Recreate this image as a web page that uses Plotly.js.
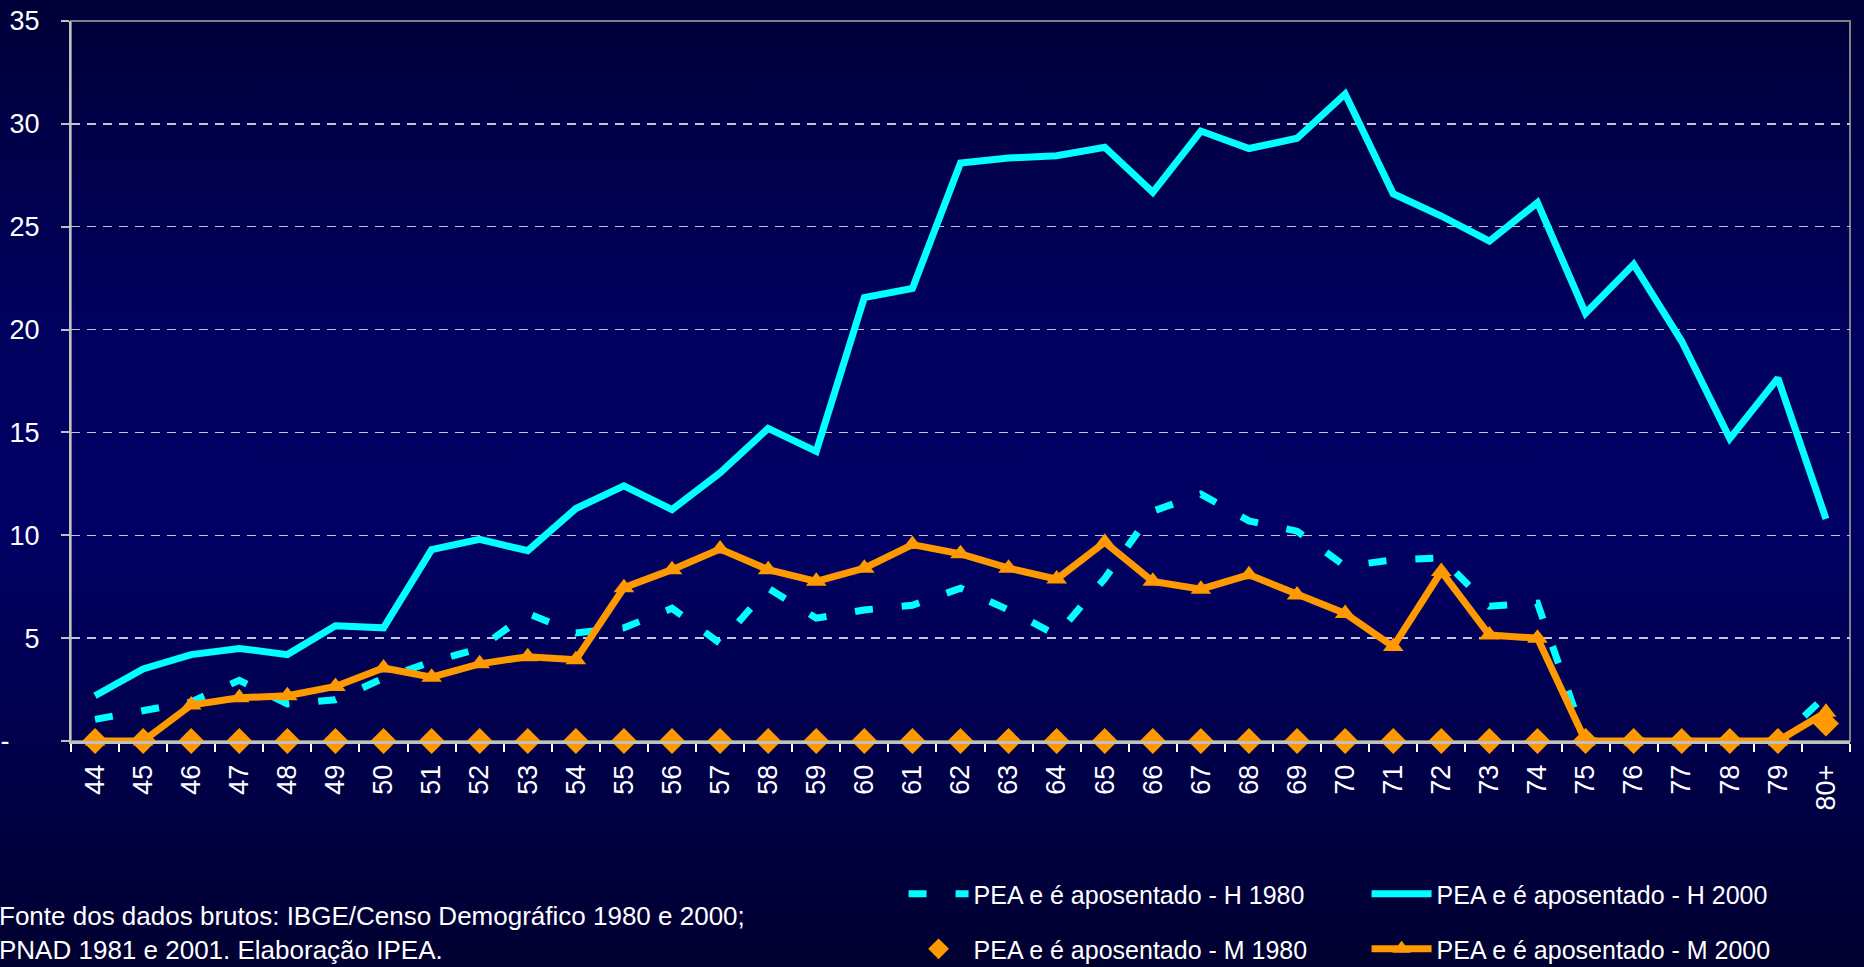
<!DOCTYPE html>
<html>
<head>
<meta charset="utf-8">
<script src="https://cdn.plot.ly/plotly-3.0.1.min.js"></script>
<style>
  html, body { margin: 0; padding: 0; width: 1864px; height: 967px; overflow: hidden; }
  body { background: linear-gradient(to bottom, #000038 0%, #00005e 33%, #000064 55%, #00004a 78%, #000030 100%); }
  #chart { width: 1864px; height: 967px; }
</style>
</head>
<body>
<div id="chart"></div>
<script>
// Age categories
const ages = ['44','45','46','47','48','49','50','51','52','53','54','55','56','57','58','59','60','61','62','63','64','65','66','67','68','69','70','71','72','73','74','75','76','77','78','79','80+'];

// PEA e é aposentado - H 1980
const h1980 = [1.05,1.45,1.9,2.95,1.8,2.0,3.05,3.85,4.5,6.2,5.25,5.5,6.45,4.75,7.43,5.97,6.37,6.6,7.43,6.37,5.15,7.9,11.17,12.0,10.7,10.2,8.5,8.8,8.9,6.55,6.7,0,0,0,0,0,2.2];
// PEA e é aposentado - H 2000
const h2000 = [2.2,3.5,4.2,4.5,4.2,5.6,5.5,9.3,9.8,9.25,11.3,12.4,11.25,13.04,15.2,14.08,21.56,22.0,28.1,28.34,28.45,28.86,26.67,29.65,28.8,29.3,31.45,26.6,25.52,24.3,26.17,20.79,23.17,19.43,14.7,17.64,10.8];
// PEA e é aposentado - M 1980
const m1980 = [0,0,0,0,0,0,0,0,0,0,0,0,0,0,0,0,0,0,0,0,0,0,0,0,0,0,0,0,0,0,0,0,0,0,0,0,0.85];
// PEA e é aposentado - M 2000
const m2000 = [0,0,1.75,2.1,2.2,2.65,3.55,3.1,3.75,4.1,3.95,7.45,8.33,9.33,8.33,7.76,8.4,9.55,9.1,8.4,7.87,9.66,7.76,7.38,8.08,7.1,6.2,4.59,8.24,5.15,5.0,0,0,0,0,0,1.4];

const yTickVals = [0,5,10,15,20,25,30,35];
const yTickText = ['-\u00a0\u00a0\u00a0\u00a0','5','10','15','20','25','30','35'];

const seriesNames = ['PEA e é aposentado - H 1980','PEA e é aposentado - H 2000','PEA e é aposentado - M 1980','PEA e é aposentado - M 2000'];
const sourceLines = ['Fonte dos dados brutos: IBGE/Censo Demográfico 1980 e 2000;','PNAD 1981 e 2001. Elaboração IPEA.'];

const CYAN = '#00FFFF';
const ORANGE = '#FF9900';
const FONT = 'Liberation Sans, Arial, sans-serif';

const traces = [
  {
    x: ages, y: h1980, name: seriesNames[0], type: 'scatter', mode: 'lines',
    line: {color: CYAN, width: 7, dash: '18px,29px'},
    cliponaxis: false, legend: 'legend'
  },
  {
    x: ages, y: h2000, name: seriesNames[1], type: 'scatter', mode: 'lines',
    line: {color: CYAN, width: 7},
    cliponaxis: false, legend: 'legend'
  },
  {
    x: ages, y: m1980, name: seriesNames[2], type: 'scatter', mode: 'markers',
    marker: {symbol: 'diamond', color: ORANGE, size: 20, line: {width: 0}},
    cliponaxis: false, legend: 'legend2'
  },
  {
    x: ages, y: m2000, name: seriesNames[3], type: 'scatter', mode: 'lines+markers',
    line: {color: ORANGE, width: 7},
    marker: {symbol: 'triangle-up', color: ORANGE, size: 18, line: {width: 0}},
    cliponaxis: false, legend: 'legend2'
  }
];

const legendCommon = {
  orientation: 'h',
  xanchor: 'left', yanchor: 'middle',
  bgcolor: 'rgba(0,0,0,0)', borderwidth: 0,
  font: {family: FONT, size: 25, color: '#ffffff'},
  itemwidth: 60,
  entrywidthmode: 'pixels', entrywidth: 388,
  traceorder: 'normal'
};

const layout = {
  width: 1864, height: 967,
  margin: {l: 71, r: 14, t: 21, b: 226, autoexpand: false},
  paper_bgcolor: 'rgba(0,0,0,0)',
  plot_bgcolor: 'rgba(0,0,0,0)',
  font: {family: FONT, color: '#ffffff', size: 27},
  showlegend: true,
  legend: Object.assign({}, legendCommon, {x: 0.468, y: -0.2125}),
  legend2: Object.assign({}, legendCommon, {x: 0.468, y: -0.289}),
  xaxis: {
    type: 'category',
    range: [-0.5, 36.5],
    showline: true, linecolor: '#c0c0c0', linewidth: 3,
    ticks: 'outside', tickson: 'boundaries', ticklen: 8, tickwidth: 2, tickcolor: '#ffffff',
    tickangle: -90,
    ticklabelstandoff: 10,
    tickfont: {family: FONT, size: 27, color: '#ffffff'},
    showgrid: false, zeroline: false, fixedrange: true
  },
  yaxis: {
    range: [0, 35],
    tickvals: yTickVals, ticktext: yTickText,
    showline: true, linecolor: '#c0c0c0', linewidth: 2,
    ticks: 'outside', ticklen: 8, tickwidth: 2, tickcolor: '#c0c0c0',
    ticklabelstandoff: 16,
    tickfont: {family: FONT, size: 27, color: '#ffffff'},
    showgrid: true, gridcolor: '#c4c4d8', gridwidth: 1.5, griddash: '9px,7px',
    zeroline: false, fixedrange: true
  },
  shapes: [
    {type: 'rect', xref: 'paper', yref: 'paper', x0: 0, x1: 1, y0: 0, y1: 1,
     line: {color: '#808080', width: 2}, layer: 'below'}
  ],
  annotations: [
    {xref: 'paper', yref: 'paper', x: -0.041, y: -0.3125, xanchor: 'left', yanchor: 'bottom',
     align: 'left', borderpad: 0, showarrow: false,
     text: sourceLines.join('<br>'),
     font: {family: FONT, size: 26, color: '#ffffff'}}
  ]
};

Plotly.newPlot('chart', traces, layout, {displayModeBar: false, staticPlot: true});
</script>
</body>
</html>
